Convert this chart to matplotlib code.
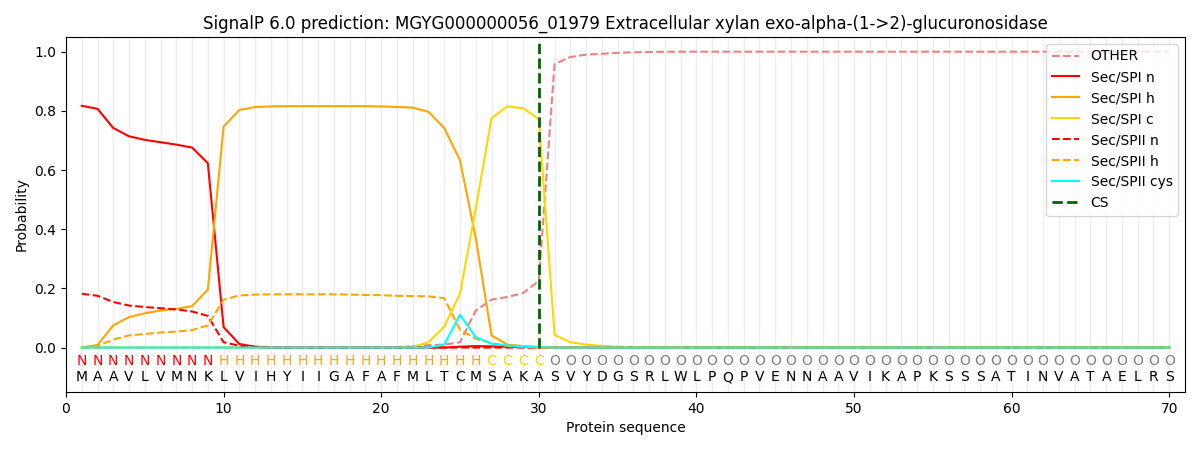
import matplotlib
matplotlib.use("Agg")
import matplotlib.pyplot as plt

# SignalP 6.0 output
seq = "MAAVLVMNKLVIHYIIGAFAFMLTCMSAKASVYDGSRLWLPQPVENNAAVIKAPKSSSATINVATAELRS"
regions = "N" * 9 + "H" * 17 + "C" * 4 + "O" * 40
cs_pos = 30

other = [0.0] * 21 + [0.005, 0.008, 0.01, 0.018, 0.125, 0.162, 0.171, 0.184, 0.225,
         0.958, 0.982, 0.99, 0.993, 0.996, 0.998, 0.999] + [1.0] * 33
spi_n = [0.817, 0.807, 0.742, 0.714, 0.702, 0.694, 0.686, 0.676, 0.623, 0.069,
         0.012, 0.003] + [0.0] * 12 + [0.003, 0.005, 0.004, 0.003, 0.002, 0.001] + [0.0] * 40
spi_h = [0.0, 0.009, 0.075, 0.103, 0.116, 0.125, 0.131, 0.14, 0.196, 0.747,
         0.803, 0.813, 0.815, 0.816, 0.816, 0.816, 0.816, 0.816, 0.816, 0.815,
         0.813, 0.811, 0.797, 0.742, 0.633, 0.37, 0.041, 0.01, 0.005, 0.002] + [0.0] * 40
spi_c = [0.0] * 21 + [0.002, 0.018, 0.071, 0.182, 0.47, 0.775, 0.815, 0.809, 0.772,
         0.043, 0.018, 0.01, 0.006, 0.003, 0.001] + [0.0] * 34
spii_n = [0.182, 0.175, 0.154, 0.142, 0.137, 0.133, 0.129, 0.122, 0.107, 0.018,
          0.006, 0.002] + [0.0] * 58
spii_h = [0.0, 0.005, 0.027, 0.041, 0.046, 0.051, 0.054, 0.059, 0.075, 0.162,
          0.176, 0.179, 0.18, 0.18, 0.18, 0.18, 0.18, 0.179, 0.178, 0.177,
          0.175, 0.174, 0.173, 0.167, 0.06, 0.03, 0.015, 0.005, 0.002] + [0.0] * 41
spii_cys = [0.0] * 23 + [0.01, 0.111, 0.035, 0.013, 0.007, 0.004, 0.002] + [0.0] * 40

pos = list(range(1, len(seq) + 1))
region_colors = {"N": "red", "H": "orange", "C": "gold", "O": "grey"}

fig, ax = plt.subplots(figsize=(12, 4.5), dpi=100)
fig.subplots_adjust(left=0.055, right=0.9875, top=0.918, bottom=0.129)

for p in range(0, len(seq) + 1):
    ax.axvline(p, color="#eeeeee", linewidth=1, zorder=0)

ax.plot(pos, other, color="lightcoral", linestyle="--", label="OTHER")
ax.plot(pos, spi_n, color="red", label="Sec/SPI n")
ax.plot(pos, spi_h, color="orange", label="Sec/SPI h")
ax.plot(pos, spi_c, color="gold", label="Sec/SPI c")
ax.plot(pos, spii_n, color="red", linestyle="--", label="Sec/SPII n")
ax.plot(pos, spii_h, color="orange", linestyle="--", label="Sec/SPII h")
ax.plot(pos, spii_cys, color="cyan", label="Sec/SPII cys")
ax.vlines(cs_pos, 0, 1.04, color="darkgreen", linestyle="--", linewidth=2, label="CS")

for p, aa, r in zip(pos, seq, regions):
    ax.text(p, -0.047, r, color=region_colors[r], ha="center", va="center", fontsize=10)
    ax.text(p, -0.1, aa, color="black", ha="center", va="center", fontsize=10)

ax.set_xlim(0, 71)
ax.set_ylim(-0.15, 1.05)
ax.set_xlabel("Protein sequence")
ax.set_ylabel("Probability")
ax.set_title("SignalP 6.0 prediction: MGYG000000056_01979 Extracellular xylan exo-alpha-(1->2)-glucuronosidase")
ax.legend(loc="upper right")

plt.savefig("out.png")
